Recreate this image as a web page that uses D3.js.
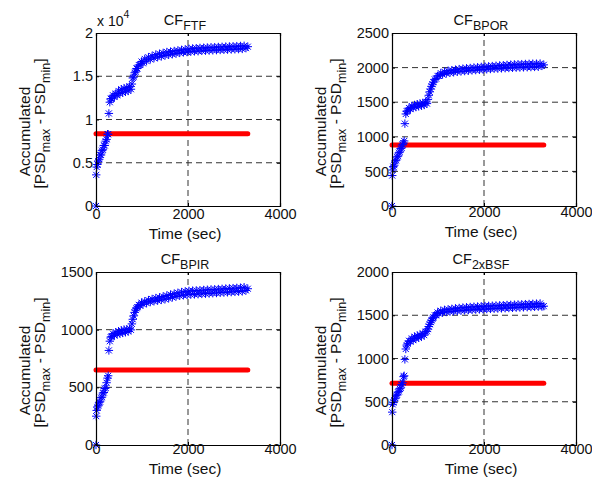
<html>
<head>
<script src="https://cdn.jsdelivr.net/npm/d3@7"></script>
<style>
    body { margin: 0; background: #fff; }
    text { font-family: Arial, "Liberation Sans", Helvetica, sans-serif; fill: #111; }
</style>
</head>
<body>
<svg id="fig" width="592" height="489"></svg>
<script>
// time axis shared by all four panels (sec)
var timeSec = [0, 5, 15, 30, 50, 70, 90, 110, 130, 150, 170, 190, 210, 230, 250, 265, 280, 300, 320, 340,
    370, 400, 430, 460, 490, 520, 550, 580, 610, 640, 670, 700, 730, 760, 780, 800, 820, 840, 860, 880,
    900, 930, 960, 990, 1020, 1060, 1100, 1140, 1180, 1220, 1260, 1300, 1340, 1380, 1420, 1460, 1500, 1540, 1580, 1620,
    1660, 1700, 1740, 1780, 1820, 1860, 1900, 1940, 1980, 2020, 2060, 2100, 2140, 2180, 2220, 2260, 2300, 2340, 2380, 2420,
    2460, 2500, 2540, 2580, 2620, 2660, 2700, 2740, 2780, 2820, 2860, 2900, 2940, 2980, 3020, 3060, 3100, 3140, 3180, 3220,
    3260, 3300];

var ftf = [0, 3600, 4500, 4800, 5200, 5400, 5900, 5900, 6400, 6500, 7000, 7000, 7500, 7700, 8300, 8300, 10700, 12000, 12400, 12400,
    12800, 12600, 13000, 12800, 13300, 13000, 13500, 13100, 13600, 13200, 13700, 13300, 13800, 13500, 14100, 14800, 14900, 15400, 15500, 15900,
    15900, 16300, 16300, 16700, 16500, 17000, 16750, 17200, 16950, 17350, 17100, 17500, 17200, 17600, 17300, 17700, 17400, 17800, 17480, 17850,
    17550, 17920, 17620, 17980, 17700, 18050, 17760, 18110, 17800, 18170, 17840, 18210, 17880, 18240, 17900, 18270, 17940, 18290, 17960, 18320,
    17980, 18340, 18000, 18360, 18020, 18380, 18040, 18400, 18060, 18420, 18080, 18440, 18100, 18460, 18120, 18480, 18140, 18500, 18160, 18520,
    18250, 18420];

var bpor = [0, 440, 520, 570, 590, 650, 660, 710, 720, 770, 780, 830, 840, 890, 910, 940, 1190, 1330, 1370, 1375,
    1415, 1400, 1445, 1420, 1460, 1430, 1470, 1440, 1480, 1450, 1490, 1460, 1500, 1480, 1540, 1600, 1650, 1690, 1730, 1760,
    1790, 1830, 1840, 1880, 1880, 1920, 1900, 1940, 1915, 1955, 1925, 1962, 1932, 1970, 1940, 1978, 1946, 1984, 1950, 1990,
    1955, 1994, 1960, 2000, 1964, 2004, 1968, 2010, 1972, 2014, 1976, 2018, 1980, 2022, 1984, 2026, 1986, 2030, 1990, 2034,
    1992, 2038, 1995, 2042, 1998, 2046, 2000, 2048, 2002, 2050, 2004, 2052, 2006, 2054, 2008, 2056, 2010, 2056, 2012, 2058,
    2025, 2040];

var bpir = [0, 250, 300, 330, 340, 370, 375, 410, 415, 450, 455, 490, 495, 540, 580, 600, 820, 900, 935, 940,
    965, 950, 978, 960, 986, 966, 994, 972, 1000, 978, 1004, 984, 1008, 998, 1050, 1090, 1120, 1150, 1170, 1185,
    1195, 1215, 1208, 1234, 1220, 1246, 1230, 1256, 1240, 1266, 1246, 1274, 1252, 1280, 1258, 1288, 1264, 1296, 1272, 1304,
    1280, 1312, 1288, 1320, 1294, 1326, 1298, 1332, 1302, 1336, 1304, 1338, 1306, 1340, 1308, 1342, 1310, 1344, 1312, 1346,
    1314, 1348, 1316, 1350, 1318, 1352, 1320, 1354, 1322, 1356, 1324, 1358, 1326, 1360, 1328, 1362, 1330, 1364, 1332, 1368,
    1340, 1355];

var bsf2x = [0, 380, 470, 490, 520, 540, 570, 580, 610, 620, 650, 660, 700, 720, 790, 800, 990, 1110, 1155, 1170,
    1205, 1195, 1232, 1212, 1252, 1230, 1265, 1240, 1275, 1252, 1288, 1270, 1310, 1315, 1340, 1370, 1395, 1420, 1440, 1460,
    1475, 1500, 1500, 1532, 1520, 1552, 1530, 1562, 1538, 1568, 1542, 1574, 1546, 1580, 1550, 1584, 1554, 1588, 1557, 1592,
    1560, 1595, 1563, 1598, 1566, 1600, 1568, 1603, 1570, 1606, 1572, 1608, 1574, 1610, 1576, 1612, 1578, 1614, 1580, 1616,
    1582, 1618, 1584, 1620, 1586, 1622, 1588, 1624, 1590, 1626, 1592, 1628, 1594, 1630, 1596, 1632, 1598, 1634, 1600, 1636,
    1600, 1605];

// threshold (red line) per panel and its time span
var thresholds = [8350, 880, 650, 715];
var thresholdSpan = [0, 3300];

var titleSubs = ["FTF", "BPOR", "BPIR", "2xBSF"];
var seriesList = [ftf, bpor, bpir, bsf2x];
var yMax = [20000, 2500, 1500, 2000];
var yStep = [5000, 500, 500, 500];
var xTicks = [0, 2000, 4000];

// plot boxes (pixels)
var boxes = [
    {x0: 96, x1: 280, y0: 33, y1: 206, tk: 16},
    {x0: 392, x1: 576, y0: 33, y1: 206, tk: 14},
    {x0: 96, x1: 280, y0: 272, y1: 445, tk: 12},
    {x0: 392, x1: 576, y0: 272, y1: 445, tk: 12}
];

var svg = d3.select("#fig");

function star(r) {
    var d = r * 0.72;
    return "M" + (-r) + ",0H" + r + "M0," + (-r) + "V" + r +
        "M" + (-d) + "," + (-d) + "L" + d + "," + d +
        "M" + (-d) + "," + d + "L" + d + "," + (-d);
}

for (var k = 0; k < 4; k++) {
    var b = boxes[k];
    var x = d3.scaleLinear().domain([0, 4000]).range([b.x0, b.x1]);
    var y = d3.scaleLinear().domain([0, yMax[k]]).range([b.y1, b.y0]);
    var yTicks = d3.range(0, yMax[k] + 1, yStep[k]);
    var g = svg.append("g");

    // dashed grid
    g.selectAll(".gy").data(yTicks.slice(1, -1)).enter().append("line")
        .attr("x1", b.x0).attr("x2", b.x1)
        .attr("y1", function(d) { return y(d); }).attr("y2", function(d) { return y(d); })
        .attr("stroke", "#333").attr("stroke-width", 1).attr("stroke-dasharray", "6,4");
    g.selectAll(".gx").data(xTicks.slice(1, -1)).enter().append("line")
        .attr("x1", function(d) { return x(d); }).attr("x2", function(d) { return x(d); })
        .attr("y1", b.y1).attr("y2", b.y0)
        .attr("stroke", "#333").attr("stroke-width", 1).attr("stroke-dasharray", "6,4");

    // red threshold
    g.append("line")
        .attr("x1", x(thresholdSpan[0])).attr("x2", x(thresholdSpan[1]))
        .attr("y1", y(thresholds[k])).attr("y2", y(thresholds[k]))
        .attr("stroke", "#ff0000").attr("stroke-width", 5).attr("stroke-linecap", "round");

    // accumulated points
    var s = seriesList[k];
    g.selectAll(".pt").data(timeSec).enter().append("path")
        .attr("d", star(4.2))
        .attr("transform", function(d, i) { return "translate(" + x(d) + "," + y(s[i]) + ")"; })
        .attr("stroke", "#0000ff").attr("stroke-width", 1).attr("fill", "none");

    // axes
    var fmt = k == 0 ? function(d) { return d / 10000; } : function(d) { return d; };
    var ax = g.append("g").attr("transform", "translate(0," + b.y1 + ")")
        .call(d3.axisBottom(x).tickValues(xTicks).tickSize(-3).tickPadding(b.tk - 3).tickFormat(function(d) { return d; }));
    var ay = g.append("g").attr("transform", "translate(" + b.x0 + ",0)")
        .call(d3.axisLeft(y).tickValues(yTicks).tickSize(-3).tickPadding(3).tickFormat(fmt));
    g.append("g").attr("transform", "translate(0," + b.y0 + ")")
        .call(d3.axisTop(x).tickValues(xTicks).tickSize(-3).tickFormat(""));
    g.append("g").attr("transform", "translate(" + b.x1 + ",0)")
        .call(d3.axisRight(y).tickValues(yTicks).tickSize(-3).tickFormat(""));
    g.selectAll(".domain").attr("stroke", "#000").attr("stroke-width", 1.2);
    g.selectAll(".tick line").attr("stroke", "#000");
    ax.selectAll("text").attr("font-size", 14.5).attr("dy", 0);
    ay.selectAll("text").attr("font-size", 14.5);

    // title
    var cx = (b.x0 + b.x1) / 2 - 3;
    var t = g.append("text").attr("x", cx).attr("y", b.y0 - 8)
        .attr("text-anchor", "middle").attr("font-size", 14.5);
    t.append("tspan").text("CF");
    t.append("tspan").attr("dy", 5).attr("font-size", 12.5).text(titleSubs[k]);

    // x label
    g.append("text").attr("x", cx).attr("y", b.y1 + b.tk + 17)
        .attr("text-anchor", "middle").attr("font-size", 15.5).text("Time (sec)");

    // y label (two lines)
    var cy = (b.y0 + b.y1) / 2;
    g.append("text").attr("transform", "translate(" + (b.x0 - 66) + "," + (cy + 12) + ") rotate(-90)")
        .attr("text-anchor", "middle").attr("font-size", 15.5).text("Accumulated");
    var yl = g.append("text").attr("transform", "translate(" + (b.x0 - 51) + "," + (cy + 4) + ") rotate(-90)")
        .attr("text-anchor", "middle").attr("font-size", 15.5);
    yl.append("tspan").text("[PSD");
    yl.append("tspan").attr("dy", 5).attr("font-size", 12.5).text("max");
    yl.append("tspan").attr("dy", -5).text(" - PSD");
    yl.append("tspan").attr("dy", 5).attr("font-size", 12.5).text("min");
    yl.append("tspan").attr("dy", -5).text("]");
}

// exponent label for the first panel
var ex = svg.append("text").attr("x", 97).attr("y", 26).attr("font-size", 14);
ex.append("tspan").text("x 10");
ex.append("tspan").attr("dy", -8).attr("font-size", 10.5).text("4");
</script>
</body>
</html>
